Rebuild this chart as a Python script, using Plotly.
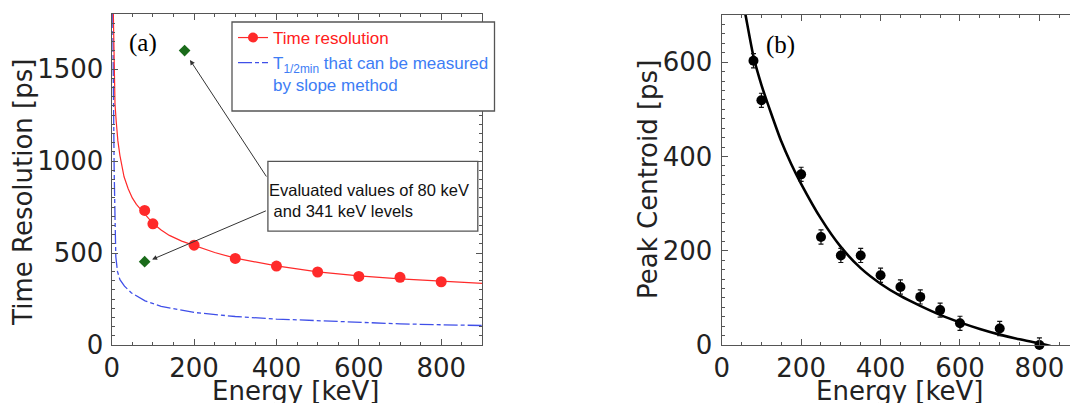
import plotly.graph_objects as go

# ---- panel (a): time resolution vs. gamma-ray energy ----
res_energy = [80, 100, 200, 300, 400, 500, 600, 700, 800]
res_ps = [732, 659, 543, 471, 429, 397, 373, 368, 344]

res_fit_energy = [4, 5, 6, 8, 11, 15, 20, 25, 30, 40, 50, 60, 70, 80, 90, 100,
                  120, 140, 170, 200, 250, 300, 400, 500, 600, 700, 800, 900]
res_fit_ps = [1800, 1600, 1420, 1310, 1215, 1110, 1030, 965, 915, 850, 800, 765,
              740, 715, 688, 662, 625, 596, 565, 542, 503, 472, 430, 398, 376,
              360, 346, 335]

slope_energy = [2.5, 4, 6, 8, 10, 14, 20, 31, 48, 81, 120, 200, 300, 400, 500,
                600, 700, 800, 900]
slope_ps = [1800, 1300, 950, 700, 480, 400, 355, 320, 283, 240, 210, 177, 155,
            141, 131, 121, 115, 110, 106]

evaluated_energy = [80, 177]
evaluated_ps = [453, 1601]

# ---- panel (b): peak centroid vs. energy ----
cent_energy = [80, 100, 200, 250, 300, 350, 400, 450, 500, 550, 600, 700, 800]
cent_ps = [603, 519, 362, 229, 190, 190, 148, 123, 102, 74, 46, 35, 0]
cent_err = [15] * len(cent_energy)

cent_fit_energy = [57, 60, 80, 100, 125, 150, 175, 200, 250, 300, 350, 400, 450,
                   500, 550, 600, 650, 700, 750, 800, 828]
cent_fit_ps = [712, 700, 612, 552, 490, 432, 384, 342, 268, 208, 163, 130, 104,
               83, 64, 48, 34, 22, 12, 3.5, -2]

W, H = 1070, 403
AX = "#555555"
TXT = "#222222"
TICKFONT = dict(family="DejaVu Sans", size=26, color=TXT)
TITLEFONT = dict(family="DejaVu Sans", size=26, color=TXT)
RED = "#ff2a2a"
BLUE = "#3f4fe8"


def px(x):
    return x / W


def py(y):
    return (H - y) / H


fig = go.Figure()

# legend-only entries
fig.add_trace(go.Scatter(
    x=[None], y=[None], mode="lines+markers",
    line=dict(color=RED, width=1.2), marker=dict(color=RED, size=10),
    name='<span style="color:#ff2020">Time resolution</span>',
    xaxis="x", yaxis="y"))
fig.add_trace(go.Scatter(
    x=slope_energy, y=slope_ps, mode="lines",
    line=dict(color=BLUE, width=1.3, dash="14px,3px,4px,3px"),
    name='<span style="color:#3d7df5">T<sub>1/2min</sub> that can be measured'
         '<br>by slope method</span>',
    xaxis="x", yaxis="y"))
fig.add_trace(go.Scatter(
    x=res_fit_energy, y=res_fit_ps, mode="lines",
    line=dict(color=RED, width=1.2), showlegend=False,
    xaxis="x", yaxis="y"))
fig.add_trace(go.Scatter(
    x=res_energy, y=res_ps, mode="markers",
    marker=dict(color=RED, size=11), showlegend=False,
    xaxis="x", yaxis="y"))
fig.add_trace(go.Scatter(
    x=evaluated_energy, y=evaluated_ps, mode="markers",
    marker=dict(color="#1a6b1a", size=9, symbol="diamond"), showlegend=False,
    xaxis="x", yaxis="y"))

# panel (b)
fig.add_trace(go.Scatter(
    x=cent_fit_energy, y=cent_fit_ps, mode="lines",
    line=dict(color="black", width=2.6, shape="spline", smoothing=0.6),
    showlegend=False, xaxis="x2", yaxis="y2"))
fig.add_trace(go.Scatter(
    x=cent_energy, y=cent_ps, mode="markers",
    marker=dict(color="black", size=10),
    error_y=dict(type="data", array=cent_err, color="#111111",
                 thickness=1.2, width=2.5),
    cliponaxis=False, showlegend=False,
    xaxis="x2", yaxis="y2"))


def axis_style(**kw):
    d = dict(
        showline=True, linecolor=AX, linewidth=1.3,
        ticks="inside", ticklen=6, tickwidth=1.1, tickcolor=AX,
        showgrid=False, zeroline=False, automargin=False,
        tickfont=TICKFONT,
    )
    d.update(kw)
    return d


def title_note(text, x, y, angle=0):
    return dict(text=text, xref="paper", yref="paper", x=px(x), y=py(y),
                showarrow=False, xanchor="center", yanchor="middle",
                textangle=angle, font=TITLEFONT)


fig.update_layout(
    width=W, height=H,
    margin=dict(l=0, r=0, t=0, b=0, autoexpand=False),
    paper_bgcolor="white", plot_bgcolor="white",
    xaxis=axis_style(
        domain=[px(111.7), px(482.4)], range=[0, 900],
        tick0=0, dtick=200, mirror="ticks",
        minor=dict(dtick=50, ticklen=3, ticks="inside", tickcolor=AX),
        anchor="y"),
    yaxis=axis_style(
        domain=[py(345), py(14)], range=[0, 1800],
        tick0=0, dtick=500, mirror="ticks", ticklabelstandoff=2,
        minor=dict(dtick=50, ticklen=3, ticks="inside", tickcolor=AX),
        anchor="x"),
    xaxis2=axis_style(
        domain=[px(721.7), 1.0], range=[0, 877],
        tick0=0, dtick=200, mirror="ticks",
        minor=dict(dtick=50, ticklen=3, ticks="inside", tickcolor=AX),
        anchor="y2"),
    yaxis2=axis_style(
        domain=[py(345), py(15)], range=[0, 700],
        tick0=0, dtick=200, mirror=False, ticklabelstandoff=3,
        minor=dict(dtick=20, ticklen=3, ticks="inside", tickcolor=AX),
        anchor="x2"),
    legend=dict(
        x=px(233), y=py(20), xanchor="left", yanchor="top",
        bgcolor="rgba(0,0,0,0)", borderwidth=0, valign="top",
        font=dict(family="Liberation Sans", size=17),
        itemwidth=30, tracegroupgap=4,
    ),
    shapes=[
        # legend frame
        dict(type="rect", xref="paper", yref="paper",
             x0=px(232), x1=px(494.5), y0=py(111), y1=py(22),
             line=dict(color="#555555", width=1.3), fillcolor="white",
             layer="above"),
        # note frame
        dict(type="rect", xref="paper", yref="paper",
             x0=px(267.9), x1=px(477.8), y0=py(231.2), y1=py(161.4),
             line=dict(color="#555555", width=1.3), fillcolor="white",
             layer="above"),
    ],
    annotations=[
        # axis titles
        title_note("Energy [keV]", 296, 391),
        title_note("Energy [keV]", 900, 391),
        title_note("Time Resolution [ps]", 22.9, 192, -90),
        title_note("Peak Centroid [ps]", 647.3, 179.6, -90),
        # panel labels
        dict(text="(a)", xref="paper", yref="paper", x=px(142.5), y=py(43.3),
             showarrow=False, xanchor="center", yanchor="middle",
             font=dict(family="Liberation Serif", size=25, color="black")),
        dict(text="(b)", xref="paper", yref="paper", x=px(780), y=py(45),
             showarrow=False, xanchor="center", yanchor="middle",
             font=dict(family="Liberation Serif", size=25, color="black")),
        dict(text="Evaluated values of 80 keV<br>&nbsp;and 341 keV levels",
             xref="paper", yref="paper", x=px(267), y=py(200),
             showarrow=False, xanchor="left", yanchor="middle", align="left",
             font=dict(family="Liberation Sans", size=16.5, color="#111111")),
        dict(text="", xref="x", yref="y", axref="x", ayref="y",
             x=190, y=1550, ax=378, ay=908, showarrow=True,
             arrowhead=2, arrowsize=1, arrowwidth=1, arrowcolor="#333333"),
        dict(text="", xref="x", yref="y", axref="x", ayref="y",
             x=98, y=465, ax=378, ay=733, showarrow=True,
             arrowhead=2, arrowsize=1, arrowwidth=1, arrowcolor="#333333"),
    ],
)

fig.write_html("out.html")
